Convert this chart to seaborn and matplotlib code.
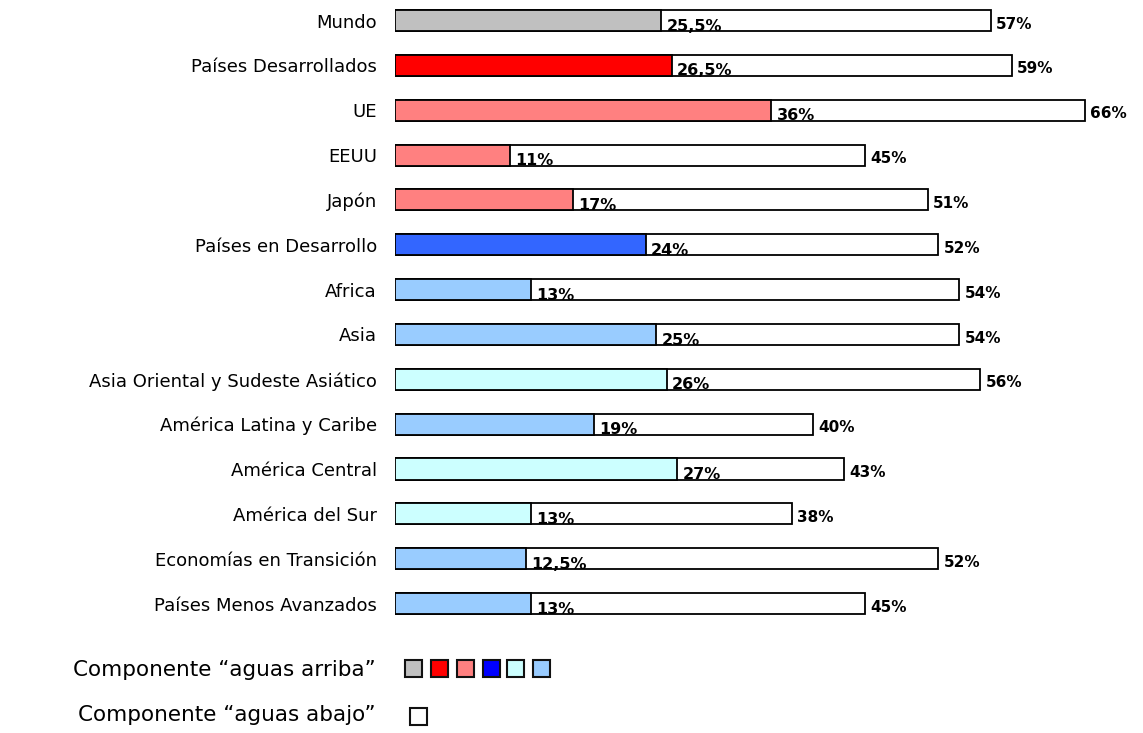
import pandas as pd
import matplotlib
matplotlib.use("Agg")
import matplotlib.pyplot as plt
import seaborn as sns

# Datos
regiones = ["Mundo", "Países Desarrollados", "UE", "EEUU", "Japón",
            "Países en Desarrollo", "Africa", "Asia",
            "Asia Oriental y Sudeste Asiático", "América Latina y Caribe",
            "América Central", "América del Sur", "Economías en Transición",
            "Países Menos Avanzados"]
aguas_arriba = [25.5, 26.5, 36, 11, 17, 24, 13, 25, 26, 19, 27, 13, 12.5, 13]
total = [57, 59, 66, 45, 51, 52, 54, 54, 56, 40, 43, 38, 52, 45]
etiq_arriba = ["25,5%", "26,5%", "36%", "11%", "17%", "24%", "13%", "25%",
               "26%", "19%", "27%", "13%", "12,5%", "13%"]
etiq_total = ["57%", "59%", "66%", "45%", "51%", "52%", "54%", "54%",
              "56%", "40%", "43%", "38%", "52%", "45%"]
colores = ["#C0C0C0", "#FF0000", "#FF8080", "#FF8080", "#FF8080", "#3366FF",
           "#99CCFF", "#99CCFF", "#CCFFFF", "#99CCFF", "#CCFFFF", "#CCFFFF",
           "#99CCFF", "#99CCFF"]
colores_leyenda = ["#C0C0C0", "#FF0000", "#FF8080", "#0000FF", "#CCFFFF", "#99CCFF"]

df = pd.DataFrame({"region": regiones, "arriba": aguas_arriba, "total": total})

sns.set_style("white")
plt.rcParams["font.family"] = ["DejaVu Sans"]
plt.rcParams["text.color"] = "black"
plt.rcParams["ytick.color"] = "black"

W, H = 1143, 733
fig = plt.figure(figsize=(W / 100, H / 100), dpi=100)
px = 10.45  # pixeles por punto porcentual
ax_left, ax_top, ax_bot = 395, 0, 625
ax = fig.add_axes([ax_left / W, 1 - ax_bot / H, (W - ax_left) / W, (ax_bot - ax_top) / H])

alto = 0.47
sns.barplot(data=df, x="total", y="region", color="white", edgecolor="black",
            linewidth=1.3, width=alto, saturation=1, ax=ax, orient="h")
sns.barplot(data=df, x="arriba", y="region", hue="region", palette=colores,
            edgecolor="black", linewidth=1.3, width=alto, saturation=1, ax=ax,
            orient="h", legend=False)

ax.set_xlim(0, (W - ax_left) / px)
y0 = 20.5
paso = 44.85
ax.set_ylim((ax_bot - y0) / paso, (ax_top - y0) / paso)

for i in range(len(regiones)):
    ax.text(aguas_arriba[i] + 0.5, i + alto / 2 - 0.01, etiq_arriba[i],
            fontsize=11.5, fontweight="bold", va="baseline", ha="left")
    ax.text(total[i] + 0.5, i + 0.08, etiq_total[i],
            fontsize=11, fontweight="bold", va="center", ha="left")

ax.set_xlabel("")
ax.set_ylabel("")
ax.set_xticks([])
ax.tick_params(axis="y", length=0, pad=13, labelsize=13)
sns.despine(ax=ax, left=True, bottom=True)

# Leyenda manual
fig.text(376 / W, 1 - 670 / H, "Componente “aguas arriba”", fontsize=15.5,
         ha="right", va="center")
fig.text(376 / W, 1 - 715 / H, "Componente “aguas abajo”", fontsize=15.5,
         ha="right", va="center")
xs = [405, 431, 457, 483, 507, 533]
for x, c in zip(xs, colores_leyenda):
    fig.patches.append(plt.Rectangle((x / W, 1 - 677 / H), 17 / W, 17 / H,
                                     transform=fig.transFigure, facecolor=c,
                                     edgecolor="#111111", linewidth=1.5))
fig.patches.append(plt.Rectangle((410 / W, 1 - 725 / H), 17 / W, 17 / H,
                                 transform=fig.transFigure, facecolor="white",
                                 edgecolor="#111111", linewidth=1.5))

fig.savefig("out.png", dpi=100)
